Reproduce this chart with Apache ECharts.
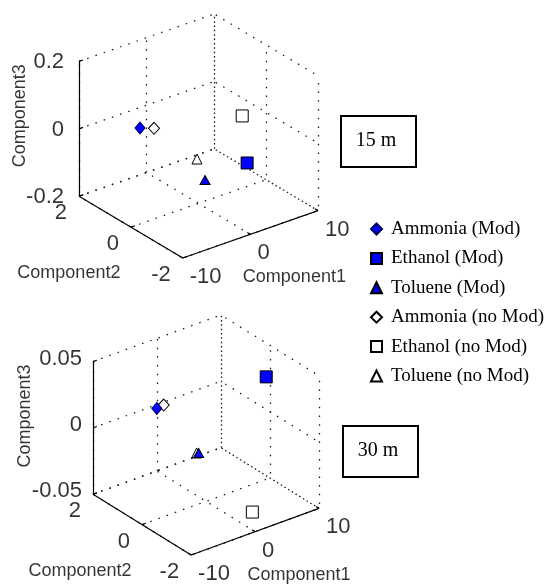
<!DOCTYPE html>
<html><head><meta charset="utf-8">
<script src="https://cdn.jsdelivr.net/npm/echarts@6/dist/echarts.min.js"></script>
<style>html,body{margin:0;padding:0;background:#fff}#c{width:546px;height:584px}</style>
</head><body><div id="c"></div>
<script>
// ---------------- data ----------------
const seriesNames = ['Ammonia (Mod)', 'Ethanol (Mod)', 'Toluene (Mod)', 'Ammonia (no Mod)', 'Ethanol (no Mod)', 'Toluene (no Mod)'];
const comp1Ticks = [-10, 0, 10];
const comp2Ticks = [-2, 0, 2];
const comp3Ticks15 = [-0.2, 0, 0.2];
const comp3Ticks30 = [-0.05, 0, 0.05];
const axisTitles = ['Component1', 'Component2', 'Component3'];
const panelLabels = ['15 m', '30 m'];
// points: [Component1, Component2, Component3]
const ammoniaMod15   = [-8, 0.17, 0.072];
const ethanolMod15   = [6, -0.31, -0.108];
const tolueneMod15   = [1, 0.01, -0.138];
const ammoniaNoMod15 = [-7, -0.11, 0.077];
const ethanolNoMod15 = [8, 0.40, -0.015];
const tolueneNoMod15 = [0, 0.06, -0.071];
const ammoniaMod30   = [-8, -0.08, 0.035];
const ethanolMod30   = [8, -0.37, 0.034];
const tolueneMod30   = [0, 0.30, -0.017];
const ammoniaNoMod30 = [-7, -0.10, 0.036];
const ethanolNoMod30 = [1.8, -1.42, -0.045];
const tolueneNoMod30 = [-0.2, 0.33, -0.017];

const points15 = [ammoniaMod15, ethanolMod15, tolueneMod15, ammoniaNoMod15, ethanolNoMod15, tolueneNoMod15];
const points30 = [ammoniaMod30, ethanolMod30, tolueneMod30, ammoniaNoMod30, ethanolNoMod30, tolueneNoMod30];

// ---------------- 3D view (MATLAB default view az=-37.5, el=30) ----------------
const AZ = -37.5 * Math.PI / 180, EL = 30 * Math.PI / 180;
const HX = 0.5 * (Math.cos(AZ) - Math.sin(AZ));
const HY = 0.5 * (-Math.sin(EL) * Math.sin(AZ) + Math.sin(EL) * Math.cos(AZ) + Math.cos(EL));
function proj(p, r) {
  const u = (p[0] - r.x[0]) / (r.x[1] - r.x[0]) - 0.5;
  const v = (p[1] - r.y[0]) / (r.y[1] - r.y[0]) - 0.5;
  const w = (p[2] - r.z[0]) / (r.z[1] - r.z[0]) - 0.5;
  return [Math.cos(AZ) * u + Math.sin(AZ) * v,
          -Math.sin(EL) * Math.sin(AZ) * u + Math.sin(EL) * Math.cos(AZ) * v + Math.cos(EL) * w];
}

const panels = [
  { ticks: { x: comp1Ticks, y: comp2Ticks, z: comp3Ticks15 }, pts: points15, label: panelLabels[0],
    grid: { left: 79, top: 14, width: 239, height: 244 }, zLabOff: [-15, 1], zTitleOff: [13, -59],
    box: { left: 340, top: 115 } },
  { ticks: { x: comp1Ticks, y: comp2Ticks, z: comp3Ticks30 }, pts: points30, label: panelLabels[1],
    grid: { left: 93, top: 315, width: 226, height: 240 }, zLabOff: [-11, -3], zTitleOff: [12, -68],
    box: { left: 342, top: 425 } }
];

const markerStyles = [
  { symbol: 'diamond', size: [10, 12], color: '#0000ff', border: '#00005a' },
  { symbol: 'rect', size: 12, color: '#0000ff', border: '#000' },
  { symbol: 'triangle', size: [10, 9], color: '#0000ff', border: '#000' },
  { symbol: 'diamond', size: [11, 12], color: '#fff', border: '#000' },
  { symbol: 'rect', size: 12, color: '#fff', border: '#000' },
  { symbol: 'triangle', size: [10, 10], color: '#fff', border: '#000' }
];

const sansFont = "'Liberation Sans', Arial, sans-serif";
const serifFont = "'Liberation Serif', 'Times New Roman', serif";

const grids = [], xAxes = [], yAxes = [], series = [], graphics = [];

panels.forEach((pn, i) => {
  grids.push(Object.assign({ containLabel: false }, pn.grid));
  xAxes.push({ type: 'value', gridIndex: i, min: -HX, max: HX, show: false });
  yAxes.push({ type: 'value', gridIndex: i, min: -HY, max: HY, show: false });
  const tx = pn.ticks.x, ty = pn.ticks.y, tz = pn.ticks.z;
  const r = { x: [tx[0], tx[tx.length - 1]], y: [ty[0], ty[ty.length - 1]], z: [tz[0], tz[tz.length - 1]] };
  const [x0, x1] = r.x, [y0, y1] = r.y, [z0, z1] = r.z;
  const P = p => proj(p, r);
  const seg = (a, b) => ({ coords: [P(a), P(b)] });

  const gridA = [], gridB = [];
  tx.forEach(t => gridA.push(seg([t, y0, z0], [t, y1, z0])));
  ty.forEach(t => gridA.push(seg([x0, t, z0], [x1, t, z0])));
  tx.forEach(t => gridA.push(seg([t, y1, z0], [t, y1, z1])));
  tz.forEach(t => gridA.push(seg([x0, y1, t], [x1, y1, t])));
  ty.forEach(t => gridB.push(seg([x1, t, z0], [x1, t, z1])));
  tz.forEach(t => gridB.push(seg([x1, y0, t], [x1, y1, t])));
  const dotted = off => ({ color: '#1a1a1a', width: 1.3, type: [1.5, 7.2], dashOffset: off, opacity: 1 });
  series.push({ type: 'lines', coordinateSystem: 'cartesian2d', xAxisIndex: i, yAxisIndex: i, silent: true, z: 1,
    lineStyle: dotted(0), data: gridA });
  series.push({ type: 'lines', coordinateSystem: 'cartesian2d', xAxisIndex: i, yAxisIndex: i, silent: true, z: 1,
    lineStyle: dotted(4.3), data: gridB });

  // axis lines + ticks
  const axisSegs = [seg([x0, y1, z0], [x0, y1, z1]), seg([x0, y1, z0], [x0, y0, z0]), seg([x0, y0, z0], [x1, y0, z0])];
  const du = 0.03 * (x1 - x0), dv = 0.03 * (y1 - y0);
  tz.forEach(t => axisSegs.push(seg([x0, y1, t], [x0 + du, y1, t])));
  ty.forEach(t => axisSegs.push(seg([x0, t, z0], [x0 + du, t, z0])));
  tx.forEach(t => axisSegs.push(seg([t, y0, z0], [t, y0 + dv, z0])));
  series.push({ type: 'lines', coordinateSystem: 'cartesian2d', xAxisIndex: i, yAxisIndex: i, silent: true, z: 2,
    lineStyle: { color: '#000', width: 1.2, type: 'solid', opacity: 1 }, data: axisSegs });

  // tick labels
  const textSeries = (data, lab) => ({ type: 'scatter', xAxisIndex: i, yAxisIndex: i, silent: true, z: 3,
    symbol: 'circle', symbolSize: 0.01, itemStyle: { color: 'rgba(0,0,0,0)' },
    label: Object.assign({ show: true, position: 'inside', formatter: '{b}', color: '#000', verticalAlign: 'middle' }, lab),
    data: data });
  series.push(textSeries(tz.map(t => ({ name: String(t), value: P([x0, y1, t]) })),
    { align: 'right', offset: pn.zLabOff, fontFamily: sansFont, fontSize: 22 }));
  series.push(textSeries(ty.map(t => ({ name: String(t), value: P([x0, t, z0]) })),
    { align: 'right', offset: [-12, 17], fontFamily: sansFont, fontSize: 22 }));
  series.push(textSeries(tx.map(t => ({ name: String(t), value: P([t, y0, z0]) })),
    { align: 'left', offset: [7, 19], fontFamily: sansFont, fontSize: 22 }));
  // axis titles
  const xm = (x0 + x1) / 2, ym = (y0 + y1) / 2, zm = (z0 + z1) / 2;
  series.push(textSeries([{ name: axisTitles[0], value: P([xm, y0, z0]) }],
    { align: 'center', offset: [44, 43], fontFamily: sansFont, fontSize: 18 }));
  series.push(textSeries([{ name: axisTitles[1], value: P([x0, ym, z0]) }],
    { align: 'center', offset: [-62, 46], fontFamily: sansFont, fontSize: 18 }));
  series.push(textSeries([{ name: axisTitles[2], value: P([x0, y1, zm]) }],
    { align: 'center', offset: pn.zTitleOff, rotate: 90, fontFamily: sansFont, fontSize: 18 }));

  // data points
  seriesNames.forEach((nm, k) => {
    const st = markerStyles[k];
    series.push({ type: 'scatter', name: nm, xAxisIndex: i, yAxisIndex: i, z: k < 3 ? 6 : 5,
      symbol: st.symbol, symbolSize: st.size,
      itemStyle: { color: st.color, borderColor: st.border, borderWidth: 1, opacity: 1 },
      data: [P(pn.pts[k])] });
  });

  // annotation box
  graphics.push({ type: 'group', left: pn.box.left, top: pn.box.top, children: [
    { type: 'rect', shape: { x: 0, y: 0, width: 75, height: 51 }, style: { fill: '#fff', stroke: '#000', lineWidth: 2 } },
    { type: 'text', x: 35, y: 25, style: { text: pn.label, fontFamily: serifFont, fontSize: 20, fill: '#000', align: 'center', verticalAlign: 'middle' } }
  ] });
});

const chart = echarts.init(document.getElementById('c'), null, { renderer: 'canvas' });
chart.setOption({
  animation: false,
  backgroundColor: '#fff',
  grid: grids, xAxis: xAxes, yAxis: yAxes,
  legend: { data: seriesNames, orient: 'vertical', left: 370, top: 219.5, padding: 0, itemWidth: 11, itemHeight: 11, itemGap: 10.4,
    selectedMode: false, textStyle: { fontFamily: serifFont, fontSize: 19, color: '#000', padding: [0, 0, 0, 4] } },
  graphic: graphics,
  series: series
});
</script></body></html>
